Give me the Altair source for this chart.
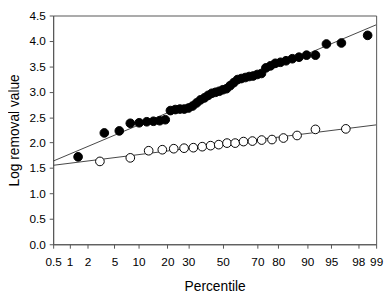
import altair as alt
import pandas as pd
from statistics import NormalDist

# Percentile (plotting position) and log removal value, filled series
filled_pct = [1.4, 3.6, 5.8, 8.0, 10.2, 12.4, 14.6, 16.9, 19.1, 21.3, 23.5, 25.7, 27.9,
              30.1, 32.3, 34.5, 36.7, 39.0, 41.2, 43.4, 45.6, 47.8, 50.0, 52.2, 54.4,
              56.6, 58.8, 61.0, 63.3, 65.5, 67.7, 69.9, 72.1, 74.3, 76.5, 78.7, 80.9,
              83.1, 85.4, 87.6, 89.8, 92.0, 94.2, 96.4, 98.6]
filled_val = [1.72, 2.19, 2.23, 2.38, 2.39, 2.41, 2.42, 2.43, 2.45, 2.63, 2.65, 2.66, 2.66,
              2.68, 2.72, 2.78, 2.84, 2.88, 2.93, 2.97, 2.99, 3.01, 3.04, 3.06, 3.12,
              3.18, 3.24, 3.26, 3.28, 3.30, 3.31, 3.34, 3.36, 3.47, 3.51, 3.56, 3.58,
              3.61, 3.65, 3.68, 3.72, 3.72, 3.94, 3.96, 4.11]

# Open series
open_pct = [3.1, 8.0, 13.0, 17.9, 22.8, 27.8, 32.7, 37.7, 42.6, 47.5, 52.5, 57.4, 62.3,
            67.3, 72.2, 77.2, 82.1, 87.0, 92.0, 96.9]
open_val = [1.63, 1.70, 1.84, 1.86, 1.88, 1.89, 1.90, 1.92, 1.94, 1.96, 1.99, 1.99, 2.02,
            2.03, 2.05, 2.06, 2.09, 2.14, 2.26, 2.27]

tick_pct = [0.5, 1, 2, 5, 10, 20, 30, 50, 70, 80, 90, 95, 98, 99]
tick_lbl = ["0.5", "1", "2", "5", "10", "20", "30", "50", "70", "80", "90", "95", "98", "99"]
y_ticks = [0, 0.5, 1, 1.5, 2, 2.5, 3, 3.5, 4, 4.5]

nd = NormalDist()
probit = lambda p: nd.inv_cdf(p / 100.0)

rows = []
for p, v in zip(filled_pct, filled_val):
    rows.append({"z": probit(p), "value": v, "series": "filled"})
for p, v in zip(open_pct, open_val):
    rows.append({"z": probit(p), "value": v, "series": "open"})
df = pd.DataFrame(rows)

tick_z = [probit(p) for p in tick_pct]
zmin, zmax = tick_z[0], tick_z[-1]

# label expression mapping probit positions back to percentile labels
expr = "'" + tick_lbl[-1] + "'"
for i in range(len(tick_z) - 2, -1, -1):
    mid = (tick_z[i] + tick_z[i + 1]) / 2
    expr = f"datum.value < {mid:.6f} ? '{tick_lbl[i]}' : ({expr})"

FONT = "Liberation Sans"

x_enc = alt.X("z:Q", scale=alt.Scale(domain=[zmin, zmax], nice=False, zero=False),
              axis=alt.Axis(values=tick_z, labelExpr=expr, title="Percentile",
                            grid=False, ticks=True, tickSize=4, labelPadding=9,
                            titlePadding=12, labelOverlap=False, labelFlush=False))
y_enc = alt.Y("value:Q", scale=alt.Scale(domain=[0, 4.5], nice=False),
              axis=alt.Axis(values=y_ticks, format=".1f", title="Log removal value",
                            grid=False, tickSize=4, labelPadding=4, titlePadding=8,
                            labelOverlap=False, labelFlush=False))

base = alt.Chart(df)

lines = base.transform_regression(
    "z", "value", groupby=["series"], extent=[zmin, zmax]
).mark_line(color="#444444", strokeWidth=1, clip=True).encode(
    x=x_enc, y=y_enc, detail="series:N"
)

points = base.mark_point(shape="circle", size=78, stroke="black", strokeWidth=1,
                         opacity=1).encode(
    x=x_enc, y=y_enc,
    fill=alt.Fill("series:N", scale=alt.Scale(domain=["filled", "open"],
                                              range=["black", "white"]), legend=None),
)

chart = alt.layer(lines, points).properties(
    width=329, height=233,
    autosize=alt.AutoSizeParams(type="none"),
    padding={"left": 46, "top": 5, "right": 8, "bottom": 48},
).configure_view(stroke="#555555", strokeWidth=1).configure_axis(
    domainColor="#555555", tickColor="#555555", labelFont=FONT, titleFont=FONT,
    labelFontSize=12, titleFontSize=14, titleFontWeight="normal",
    labelColor="black", titleColor="black",
)

chart.save("out.html", embed_options={"renderer": "svg", "actions": False})
